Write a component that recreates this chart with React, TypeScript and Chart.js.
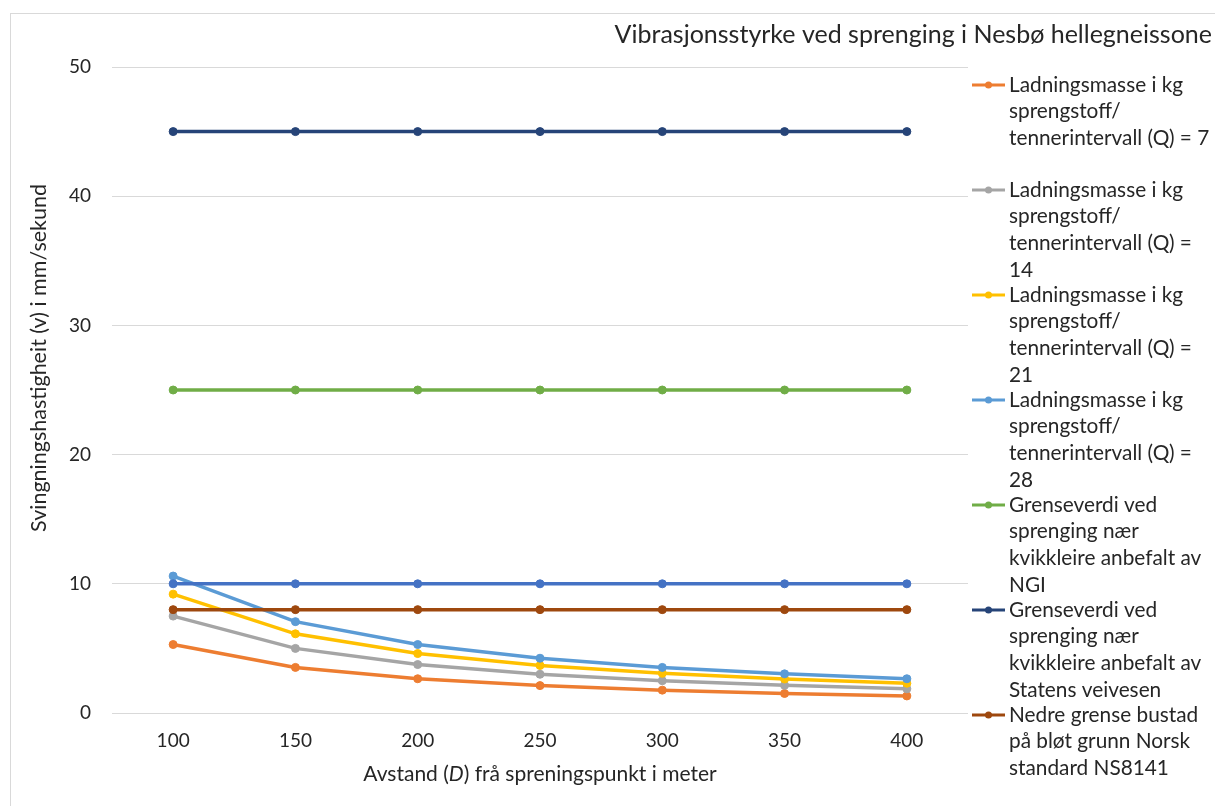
import React, { useEffect, useRef } from "react";
import { Chart, registerables } from "chart.js";

Chart.register(...registerables);

const categories = ["100", "150", "200", "250", "300", "350", "400"];
const yTicks = [0, 10, 20, 30, 40, 50];

const q7 = [5.3, 3.53, 2.65, 2.12, 1.77, 1.51, 1.32];
const q14 = [7.5, 5.0, 3.75, 3.0, 2.5, 2.14, 1.87];
const q21 = [9.2, 6.13, 4.6, 3.68, 3.07, 2.63, 2.3];
const q28 = [10.6, 7.07, 5.3, 4.24, 3.53, 3.03, 2.65];
const ngi = [25, 25, 25, 25, 25, 25, 25];
const svv = [45, 45, 45, 45, 45, 45, 45];
const ns8141 = [8, 8, 8, 8, 8, 8, 8];
const limit10 = [10, 10, 10, 10, 10, 10, 10];

const title = "Vibrasjonsstyrke ved sprenging i Nesbø hellegneissone";
const yTitle = [{ t: "Svingningshastigheit (v) i mm/sekund", i: false }];
const xTitle = [
  { t: "Avstand (", i: false },
  { t: "D", i: true },
  { t: ") frå spreningspunkt i meter", i: false },
];

const legendNames: string[][] = [
  ["Ladningsmasse i kg", "sprengstoff/", "tennerintervall (Q) = 7"],
  ["Ladningsmasse i kg", "sprengstoff/", "tennerintervall (Q) =", "14"],
  ["Ladningsmasse i kg", "sprengstoff/", "tennerintervall (Q) =", "21"],
  ["Ladningsmasse i kg", "sprengstoff/", "tennerintervall (Q) =", "28"],
  ["Grenseverdi ved", "sprenging nær", "kvikkleire anbefalt av", "NGI"],
  ["Grenseverdi ved", "sprenging nær", "kvikkleire anbefalt av", "Statens veivesen"],
  ["Nedre grense bustad", "på bløt grunn Norsk", "standard NS8141"],
];

const seriesData = [limit10, q7, q14, q21, q28, ngi, svv, ns8141];
const seriesColors = ["#4472C4", "#ED7D31", "#A5A5A5", "#FFC000", "#5B9BD5", "#70AD47", "#264478", "#9E480E"];
const seriesLabels = ["Grense 10", ...legendNames.map((l) => l.join(" "))];
const seriesOrder = [0, 9, 8, 7, 6, 5, 4, 3];

const FONT = "Lato, 'Open Sans', sans-serif";
const TEXT = "#262626";

function drawMixed(ctx: CanvasRenderingContext2D, parts: { t: string; i: boolean }[], size: number) {
  let total = 0;
  const widths = parts.map((p) => {
    ctx.font = `${p.i ? "italic " : ""}${size}px ${FONT}`;
    const w = ctx.measureText(p.t).width;
    total += w;
    return w;
  });
  let x = -total / 2;
  parts.forEach((p, k) => {
    ctx.font = `${p.i ? "italic " : ""}${size}px ${FONT}`;
    ctx.fillText(p.t, x, 0);
    x += widths[k];
  });
}

const decorPlugin = {
  id: "decor",
  beforeDraw(chart: any) {
    const ctx = chart.ctx as CanvasRenderingContext2D;
    ctx.save();
    ctx.fillStyle = "#ffffff";
    ctx.fillRect(0, 0, chart.width, chart.height);
    ctx.strokeStyle = "#D9D9D9";
    ctx.lineWidth = 1;
    ctx.strokeRect(10.5, 13.5, chart.width + 20, chart.height + 20);
    ctx.restore();
  },
  afterDraw(chart: any) {
    const ctx = chart.ctx as CanvasRenderingContext2D;
    const area = chart.chartArea;
    ctx.save();
    ctx.fillStyle = TEXT;
    ctx.textBaseline = "middle";
    // title
    ctx.textAlign = "right";
    ctx.font = `25px ${FONT}`;
    ctx.fillText(title, 1212, 35);
    // axis titles
    ctx.textAlign = "left";
    ctx.save();
    ctx.translate(39, 358);
    ctx.rotate(-Math.PI / 2);
    drawMixed(ctx, yTitle, 21.5);
    ctx.restore();
    ctx.save();
    ctx.translate((area.left + area.right) / 2, 774);
    drawMixed(ctx, xTitle, 21);
    ctx.restore();
    // legend
    const ds = chart.data.datasets;
    for (let i = 0; i < legendNames.length; i++) {
      const d = ds[i + 1];
      const y0 = 85 + i * 105;
      ctx.strokeStyle = d.borderColor;
      ctx.lineWidth = 3;
      ctx.beginPath();
      ctx.moveTo(972, y0);
      ctx.lineTo(1005, y0);
      ctx.stroke();
      ctx.fillStyle = d.borderColor;
      ctx.beginPath();
      ctx.arc(988.5, y0, 3.5, 0, Math.PI * 2);
      ctx.fill();
      ctx.fillStyle = TEXT;
      ctx.font = `20.8px ${FONT}`;
      ctx.textAlign = "left";
      legendNames[i].forEach((line, j) => {
        ctx.fillText(line, 1009, y0 + j * 26.7);
      });
    }
    ctx.restore();
  },
};

export default function App() {
  const ref = useRef<HTMLCanvasElement | null>(null);
  useEffect(() => {
    if (!ref.current) return;
    const chart = new Chart(ref.current, {
      type: "line",
      data: {
        labels: categories,
        datasets: seriesData.map((d, i) => ({
          label: seriesLabels[i],
          data: d,
          borderColor: seriesColors[i],
          backgroundColor: seriesColors[i],
          pointBackgroundColor: seriesColors[i],
          pointBorderColor: seriesColors[i],
          borderWidth: 3.5,
          pointRadius: 4,
          pointBorderWidth: 1,
          tension: 0,
          fill: false,
          order: seriesOrder[i],
        })),
      },
      options: {
        responsive: false,
        animation: false,
        devicePixelRatio: 1,
        layout: { padding: { left: 0, top: 67, right: 247, bottom: 0 } },
        plugins: {
          legend: { display: false },
          title: { display: false },
          tooltip: { enabled: false },
        },
        scales: {
          x: {
            type: "category",
            offset: true,
            grid: { display: false, drawTicks: false },
            border: { display: false },
            ticks: { color: TEXT, font: { family: FONT, size: 19 }, padding: 16, maxRotation: 0 },
            afterFit: (s: any) => {
              s.height = 93;
            },
          },
          y: {
            min: 0,
            max: 50,
            afterBuildTicks: (s: any) => {
              s.ticks = yTicks.map((v) => ({ value: v }));
            },
            grid: { color: "#D9D9D9", lineWidth: 1, drawTicks: false },
            border: { display: false },
            ticks: { color: TEXT, font: { family: FONT, size: 19 }, padding: 21 },
            afterFit: (s: any) => {
              s.width = 112;
            },
          },
        },
      },
      plugins: [decorPlugin],
    } as any);
    return () => chart.destroy();
  }, []);
  return (
    <div style={{ position: "absolute", left: 0, top: 0, width: 1215, height: 806 }}>
      <canvas ref={ref} width={1215} height={806} />
    </div>
  );
}
